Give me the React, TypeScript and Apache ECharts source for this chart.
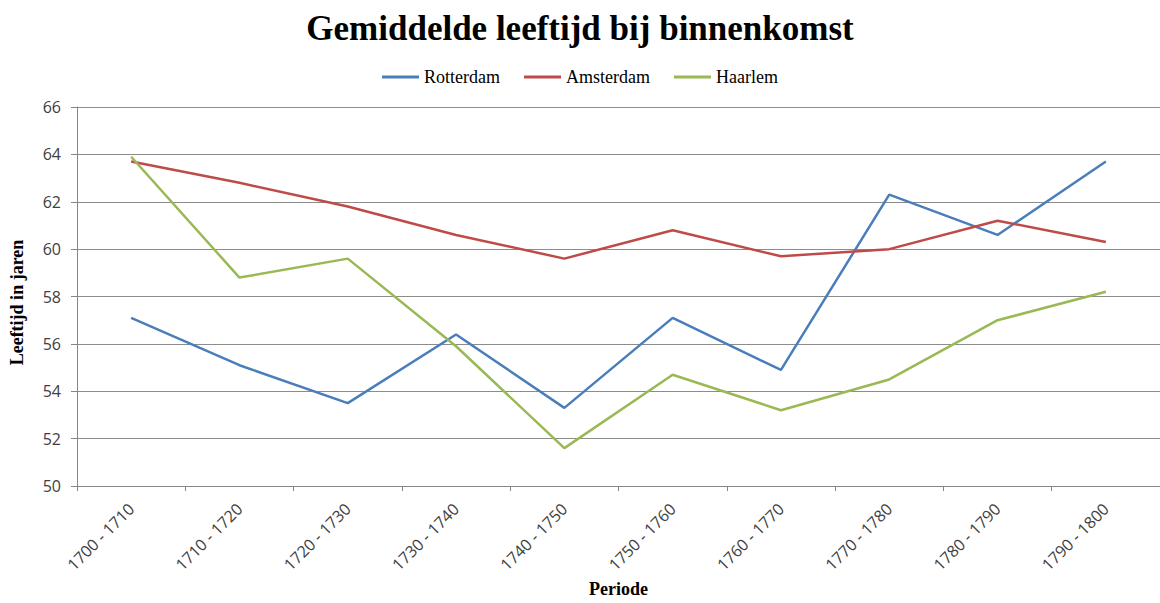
import React, { useEffect, useRef } from "react";
import * as echarts from "echarts";

const categories = [
  "1700 - 1710", "1710 - 1720", "1720 - 1730", "1730 - 1740", "1740 - 1750",
  "1750 - 1760", "1760 - 1770", "1770 - 1780", "1780 - 1790", "1790 - 1800",
];
const rotterdam = [57.1, 55.1, 53.5, 56.4, 53.3, 57.1, 54.9, 62.3, 60.6, 63.7];
const amsterdam = [63.7, 62.8, 61.8, 60.6, 59.6, 60.8, 59.7, 60.0, 61.2, 60.3];
const haarlem = [63.9, 58.8, 59.6, 55.9, 51.6, 54.7, 53.2, 54.5, 57.0, 58.2];
const yTicks = { min: 50, max: 66, interval: 2 };

export default function App() {
  const ref = useRef<HTMLDivElement>(null);
  useEffect(() => {
    if (!ref.current) return;
    const chart = echarts.init(ref.current, null, { renderer: "svg" });
    const serif = "'Liberation Serif', 'Times New Roman', serif";
    const sans = "'Open Sans', 'Liberation Sans', sans-serif";
    const mk = (name: string, data: number[], color: string) => ({
      name,
      type: "line",
      data,
      symbol: "none",
      lineStyle: { color, width: 2.5 },
      itemStyle: { color },
    });
    chart.setOption({
      animation: false,
      backgroundColor: "#ffffff",
      title: {
        text: "Gemiddelde leeftijd bij binnenkomst",
        left: "center",
        top: 6,
        textStyle: { fontFamily: serif, fontSize: 35, fontWeight: "bold", color: "#000" },
      },
      legend: {
        top: 63,
        left: "center",
        icon: "rect",
        itemWidth: 37,
        itemHeight: 3,
        itemGap: 24,
        textStyle: { fontFamily: serif, fontSize: 18, color: "#000" },
        data: ["Rotterdam", "Amsterdam", "Haarlem"],
      },
      grid: { left: 70, right: 0, top: 107, bottom: 110, containLabel: false },
      xAxis: {
        type: "category",
        data: categories,
        boundaryGap: true,
        name: "Periode",
        nameLocation: "middle",
        nameGap: 91,
        nameTextStyle: { fontFamily: serif, fontSize: 18, fontWeight: "bold", color: "#000" },
        axisLine: { lineStyle: { color: "#868686", width: 1 } },
        axisTick: { show: true, length: 5, lineStyle: { color: "#868686" } },
        axisLabel: { rotate: 45, fontFamily: sans, fontSize: 16, color: "#404040", margin: 20 },
      },
      yAxis: {
        type: "value",
        min: yTicks.min,
        max: yTicks.max,
        interval: yTicks.interval,
        name: "Leeftijd in jaren",
        nameLocation: "middle",
        nameGap: 51,
        nameTextStyle: {
          fontFamily: serif,
          fontSize: 18,
          fontWeight: "bold",
          color: "#000",
          padding: [0, 12, 0, 0],
        },
        axisLine: { show: true, lineStyle: { color: "#868686", width: 1 } },
        axisTick: { show: true, length: 6, lineStyle: { color: "#868686" } },
        axisLabel: { fontFamily: sans, fontSize: 16, color: "#404040", margin: 16 },
        splitLine: { show: true, lineStyle: { color: "#8c8c8c", width: 1 } },
      },
      series: [
        mk("Rotterdam", rotterdam, "#4A7EBB"),
        mk("Amsterdam", amsterdam, "#BE4B48"),
        mk("Haarlem", haarlem, "#98B954"),
      ],
    });
    return () => chart.dispose();
  }, []);
  return (
    <div
      ref={ref}
      style={{ position: "fixed", left: 0, top: 0, width: 1160, height: 603, background: "#fff" }}
    />
  );
}
